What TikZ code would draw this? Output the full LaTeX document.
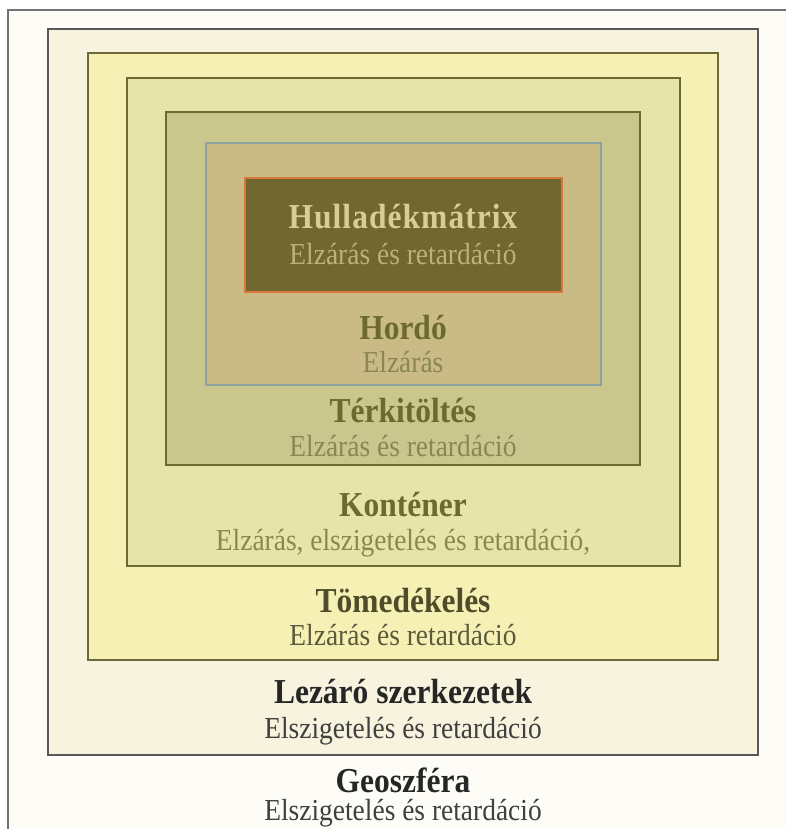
\documentclass[tikz,border=0pt]{standalone}
\usepackage{fontspec}
\setmainfont{Liberation Serif}
\newfontfamily\condserif[FakeStretch=0.9]{Liberation Serif}
\newfontfamily\condserifsp[FakeStretch=0.9,LetterSpace=3]{Liberation Serif}
\begin{document}
\begin{tikzpicture}[x=1pt,y=-1pt,
  layer/.style={draw, line width=1.6pt, anchor=north west, inner sep=0pt, outer sep=0pt},
  ttl/.style={font=\condserif\fontsize{35}{37}\selectfont\bfseries, inner sep=0pt},
  ttlsp/.style={font=\condserifsp\fontsize{35}{37}\selectfont\bfseries, inner sep=0pt},
  sub/.style={font=\condserif\fontsize{30.5}{32}\selectfont, inner sep=0pt}]
\definecolor{bgc}{HTML}{FDFCF6}
\definecolor{lezf}{HTML}{F8F3DE}
\definecolor{tomf}{HTML}{F7F0B4}
\definecolor{konf}{HTML}{E6E4A9}
\definecolor{terf}{HTML}{C9C78D}
\definecolor{horf}{HTML}{C9BA86}
\definecolor{hulf}{HTML}{716731}
\definecolor{hord}{HTML}{8CA3A0}
\definecolor{huld}{HTML}{D9773A}
\definecolor{oliv}{HTML}{6C6A2F}
\definecolor{olivl}{HTML}{8A8850}
\definecolor{tomd}{HTML}{6A6A3A}
\definecolor{hult}{HTML}{D6CE96}
\definecolor{huls}{HTML}{BDB17B}
\definecolor{tomt}{HTML}{4E4C2A}
\definecolor{toms}{HTML}{5C5A3C}
\useasboundingbox (0,0) rectangle (786,829);
\fill[white] (0,0) rectangle (786,829);
\begin{scope}
\clip (0,0) rectangle (786,829);
\node[layer, draw=black!55, fill=bgc, minimum width=800pt, minimum height=840pt] (geo) at (8,10) {};
\end{scope}
\node[layer, draw=black!65, fill=lezf, minimum width=710pt, minimum height=726pt] (lez) at (48,29) {};
\node[layer, draw=tomd, fill=tomf, minimum width=630pt, minimum height=607pt] (tom) at (88,53) {};
\node[layer, draw=oliv, fill=konf, minimum width=553pt, minimum height=488pt] (kon) at (127,78) {};
\node[layer, draw=oliv, fill=terf, minimum width=474pt, minimum height=353pt] (ter) at (166,112) {};
\node[layer, draw=hord, fill=horf, minimum width=395pt, minimum height=242pt] (hor) at (206,143) {};
\node[layer, draw=huld, line width=2.2pt, fill=hulf, minimum width=317pt, minimum height=114pt] (hul) at (245,178) {};
% texts
\node[ttlsp, text=hult] (hulT) at (403,217) {Hulladékmátrix};
\node[sub, text=huls] (hulS) at (403,254) {Elzárás és retardáció};
\node[ttl, text=oliv] (horT) at (403,328) {Hordó};
\node[sub, text=olivl] (horS) at (403,362) {Elzárás};
\node[ttl, text=oliv] (terT) at (403,411) {Térkitöltés};
\node[sub, text=olivl] (terS) at (403,446) {Elzárás és retardáció};
\node[ttl, text=oliv] (konT) at (403,505) {Konténer};
\node[sub, text=olivl] (konS) at (403,543) {Elzárás, elszigetelés és retardáció,};
\node[ttl, text=tomt] (tomT) at (403,601) {Tömedékelés};
\node[sub, text=toms] (tomS) at (403,635) {Elzárás és retardáció};
\node[ttl, text=black!85] (lezT) at (403,692) {Lezáró szerkezetek};
\node[sub, text=black!75] (lezS) at (403,731) {Elszigetelés és retardáció};
\node[ttl, text=black!85] (geoT) at (403,780) {Geoszféra};
\node[sub, text=black!75] (geoS) at (403,813) {Elszigetelés és retardáció};
\end{tikzpicture}
\end{document}
